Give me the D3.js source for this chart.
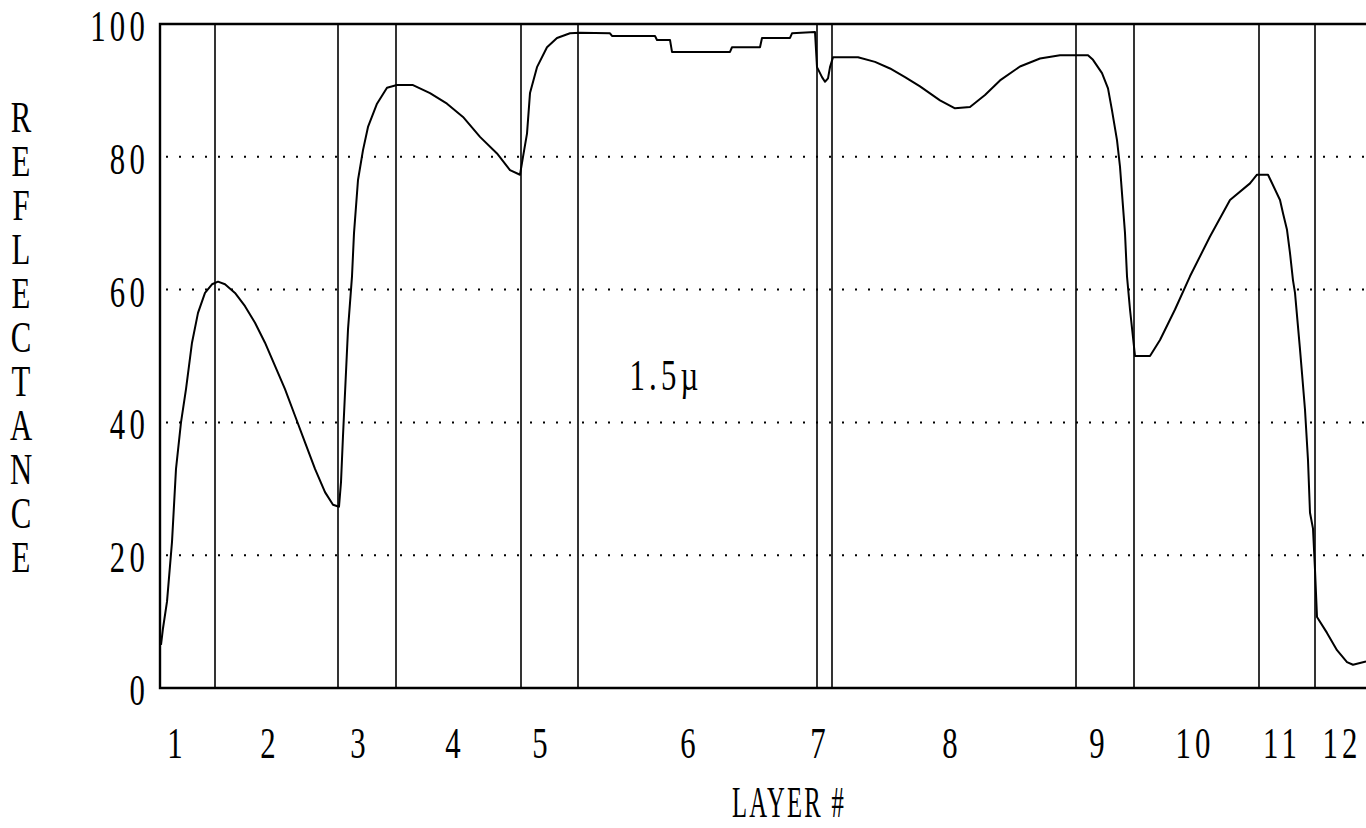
<!DOCTYPE html>
<html>
<head>
<meta charset="utf-8">
<script src="https://cdn.jsdelivr.net/npm/d3@7"></script>
<style>
  body { margin: 0; background: #fff; }
  svg text { font-family: "Liberation Serif", "DejaVu Serif", serif; fill: #000; }
</style>
</head>
<body>
<svg id="chart" width="1366" height="828"></svg>
<script>
// depth along the stack (arbitrary units), reflectance in %
const depth = [1, 3, 7, 12, 16, 21, 26, 32, 38, 45, 52, 58, 65, 75, 85, 95, 105, 115, 125, 135,
  145, 155, 165, 173, 179, 181, 183, 188, 192, 194, 198, 203, 208, 217, 227, 237, 253, 270, 287, 303,
  320, 337, 350, 360, 363, 367, 370, 377, 387, 397, 410, 420, 450, 452, 495, 497, 510, 512, 570, 572,
  600, 602, 630, 632, 655, 657, 662, 665, 668, 670, 673, 698, 715, 730, 745, 760, 780, 795, 810, 825,
  840, 860, 880, 900, 928, 933, 942, 948, 952, 957, 960, 962, 965, 967, 970, 975, 990, 1000, 1015, 1030,
  1050, 1070, 1090, 1097, 1108, 1120, 1123, 1127, 1130, 1133, 1135, 1140, 1142, 1145, 1148, 1150, 1153, 1155, 1157, 1167,
  1177, 1187, 1193, 1206];
const reflectance = [6.5, 9, 13, 22, 33, 40, 45, 52, 56.5, 59.5, 60.8, 61.2, 60.8, 59.5, 57.5, 55, 52, 48.5, 45, 41,
  37, 33, 29.5, 27.6, 27.3, 31, 38, 54, 62, 68.5, 76.5, 81, 84.5, 88, 90.4, 90.8, 90.8, 89.6, 88, 86,
  83, 80.5, 78, 77.3, 80, 83.5, 89.6, 93.5, 96.5, 97.9, 98.6, 98.7, 98.6, 98.2, 98.2, 97.6, 97.6, 95.8, 95.8, 96.5,
  96.5, 97.9, 97.9, 98.6, 98.8, 93.5, 92, 91.3, 91.8, 93.5, 95, 95, 94.3, 93.3, 92.0, 90.6, 88.5, 87.3, 87.5, 89.3,
  91.5, 93.6, 94.8, 95.3, 95.3, 94.6, 92.6, 90.3, 87, 82.5, 78.5, 74.5, 68.5, 62, 57, 50, 50, 52.4, 57, 62,
  68, 73.5, 76, 77.3, 77.3, 73.5, 71.5, 69, 65.5, 61.4, 59.5, 51, 47.4, 41.9, 34.3, 26.4, 24, 17.8, 10.7, 8.3,
  5.7, 3.9, 3.5, 4.0];

const boundaries = [55, 178, 236, 361, 418, 657, 672, 916, 974, 1099, 1155];
const layerLabels = ["1", "2", "3", "4", "5", "6", "7", "8", "9", "10", "11", "12"];
const layerLabelPos = [15, 108, 198, 293, 380, 528, 658, 790, 937, 1033, 1120, 1180];
const yTicks = [0, 20, 40, 60, 80, 100];
const gridTicks = [20, 40, 60, 80];
const yTitle = "REFLECTANCE";

const svg = d3.select("#chart");
const plotLeft = 160, plotTop = 24, plotBottom = 688, plotRight = 1366;

const x = d3.scaleLinear().domain([0, 1206]).range([plotLeft, plotRight]);
const y = d3.scaleLinear().domain([0, 100]).range([plotBottom, plotTop]);

const fs = 44;

// squeezed typewriter-like text
function label(g, px, py, txt, anchor, sx = 0.7, spacing = 6) {
  return g.append("text")
    .attr("transform", `translate(${px},${py}) scale(${sx},1)`)
    .attr("text-anchor", anchor)
    .attr("dominant-baseline", "central")
    .attr("font-size", fs)
    .attr("letter-spacing", spacing)
    .text(txt);
}

// dotted grid
svg.append("g")
  .selectAll("line")
  .data(gridTicks)
  .join("line")
  .attr("x1", plotLeft + 6).attr("x2", plotRight)
  .attr("y1", d => y(d)).attr("y2", d => y(d))
  .attr("stroke", "#000")
  .attr("stroke-width", 2)
  .attr("stroke-dasharray", "2 11");

// layer boundaries
svg.append("g")
  .selectAll("line")
  .data(boundaries)
  .join("line")
  .attr("x1", d => x(d)).attr("x2", d => x(d))
  .attr("y1", plotTop).attr("y2", plotBottom)
  .attr("stroke", "#000")
  .attr("stroke-width", 1.6);

// frame: top, left, bottom
svg.append("path")
  .attr("d", `M${plotRight},${plotTop}H${plotLeft}V${plotBottom}H${plotRight}`)
  .attr("fill", "none")
  .attr("stroke", "#000")
  .attr("stroke-width", 2.4);

// reflectance curve
const line = d3.line()
  .x((d, i) => x(depth[i]))
  .y(d => y(d));

svg.append("path")
  .datum(reflectance)
  .attr("d", line)
  .attr("fill", "none")
  .attr("stroke", "#000")
  .attr("stroke-width", 2)
  .attr("stroke-linejoin", "round");

// y tick labels
const gy = svg.append("g");
yTicks.forEach(t => label(gy, 149, y(t) + 2, String(t), "end"));

// y title, stacked letters in one text
svg.append("text")
  .attr("transform", "translate(21,0) scale(0.7,1)")
  .attr("text-anchor", "middle")
  .attr("font-size", fs)
  .selectAll("tspan")
  .data(yTitle.split(""))
  .join("tspan")
  .attr("x", 0)
  .attr("y", (d, i) => 132 + i * 44)
  .text(d => d);

// layer numbers
const gx = svg.append("g");
layerLabels.forEach((l, i) => label(gx, x(layerLabelPos[i]) + 2, 743, l, "middle"));

label(svg, 789, 802, "LAYER #", "middle", 0.56, 4);
label(svg, 666, 375, "1.5µ", "middle");
</script>
</body>
</html>
